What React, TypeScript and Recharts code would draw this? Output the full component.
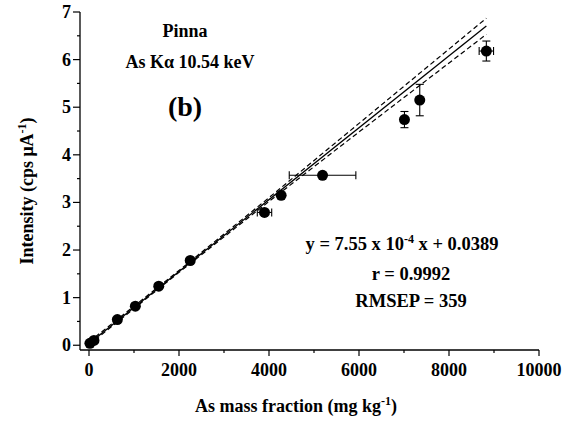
import React from "react";
import {
  ComposedChart,
  Scatter,
  Line,
  XAxis,
  YAxis,
  ErrorBar,
  Customized,
} from "recharts";

// ---- data ----
const massFraction = [20, 110, 630, 1030, 1550, 2250, 3900, 4270, 5190, 7010, 7350, 8830];
const intensity = [0.04, 0.1, 0.54, 0.82, 1.24, 1.78, 2.79, 3.15, 3.57, 4.74, 5.15, 6.18];
const massErr = [0, 0, 0, 0, 0, 0, 160, 0, 740, 0, 0, 160];
const intensityErr = [0, 0, 0, 0, 0, 0, 0, 0, 0, 0.17, 0.33, 0.21];

const fitX = [0, 8830];
const fitY = [0.0389, 6.705];

const bandX = [0, 2000, 4000, 6000, 8830];
const bandUpper = [0.07, 1.57, 3.1, 4.66, 6.87];
const bandLower = [0.01, 1.53, 3.02, 4.48, 6.53];

const xTicks = [0, 1000, 2000, 3000, 4000, 5000, 6000, 7000, 8000, 9000, 10000];
const xMajor = [0, 2000, 4000, 6000, 8000, 10000];
const yTicks = [0, 0.5, 1, 1.5, 2, 2.5, 3, 3.5, 4, 4.5, 5, 5.5, 6, 6.5, 7];
const yMajor = [0, 1, 2, 3, 4, 5, 6, 7];

const points = massFraction.map((x, i) => ({
  x,
  y: intensity[i],
  ex: massErr[i],
  ey: intensityErr[i],
}));
const fitData = fitX.map((x, i) => ({ x, y: fitY[i] }));
const upperData = bandX.map((x, i) => ({ x, y: bandUpper[i] }));
const lowerData = bandX.map((x, i) => ({ x, y: bandLower[i] }));

const FONT = "'Liberation Serif', 'Times New Roman', Times, serif";
const txt = { fontFamily: FONT, fontWeight: 700 as const };

const XTick = (props: any) => {
  const { x, y, payload } = props;
  const major = xMajor.includes(payload.value);
  return (
    <g>
      <line x1={x} y1={y} x2={x} y2={y + (major ? 6 : 3)} stroke="#000" strokeWidth={1.2} />
      {major && (
        <text x={x} y={y + 26} textAnchor="middle" style={{ ...txt, fontSize: 18 }} fill="#000">
          {payload.value}
        </text>
      )}
    </g>
  );
};

const YTick = (props: any) => {
  const { x, y, payload } = props;
  const major = yMajor.includes(payload.value);
  return (
    <g>
      <line x1={x - (major ? 7 : 3)} y1={y} x2={x} y2={y} stroke="#000" strokeWidth={1.2} />
      {major && (
        <text x={x - 9} y={y + 6} textAnchor="end" style={{ ...txt, fontSize: 18 }} fill="#000">
          {payload.value}
        </text>
      )}
    </g>
  );
};

const Dot = (props: any) => <circle cx={props.cx} cy={props.cy} r={5.5} fill="#000" />;

const Annotations = () => (
  <g fill="#000">
    <text x={185} y={37} textAnchor="middle" style={{ ...txt, fontSize: 18 }}>
      Pinna
    </text>
    <text x={190} y={68} textAnchor="middle" style={{ ...txt, fontSize: 18 }}>
      As Kα 10.54 keV
    </text>
    <text x={185} y={116} textAnchor="middle" style={{ ...txt, fontSize: 28 }}>
      (b)
    </text>
    <text x={402} y={250} textAnchor="middle" style={{ ...txt, fontSize: 18.5 }}>
      y = 7.55 x 10
      <tspan dy={-7} style={{ fontSize: 12 }}>
        -4
      </tspan>
      <tspan dy={7}> x + 0.0389</tspan>
    </text>
    <text x={411} y={280} textAnchor="middle" style={{ ...txt, fontSize: 18.5 }}>
      r = 0.9992
    </text>
    <text x={411} y={307} textAnchor="middle" style={{ ...txt, fontSize: 18.5 }}>
      RMSEP = 359
    </text>
    <text x={296} y={412} textAnchor="middle" style={{ ...txt, fontSize: 18 }}>
      As mass fraction (mg kg
      <tspan dy={-7} style={{ fontSize: 12 }}>
        -1
      </tspan>
      <tspan dy={7}>)</tspan>
    </text>
    <text
      x={0}
      y={0}
      textAnchor="middle"
      style={{ ...txt, fontSize: 18 }}
      transform="translate(33 191) rotate(-90)"
    >
      Intensity (cps μA
      <tspan dy={-7} style={{ fontSize: 12 }}>
        -1
      </tspan>
      <tspan dy={7}>)</tspan>
    </text>
  </g>
);

export default function App() {
  return (
    <div style={{ position: "absolute", left: 0, top: 0, width: 576, height: 423, background: "#fff" }}>
      <ComposedChart
        width={576}
        height={423}
        margin={{ top: 12, right: 37, left: 0, bottom: 0 }}
      >
        <XAxis
          dataKey="x"
          type="number"
          domain={[-200, 10000]}
          ticks={xTicks}
          interval={0}
          tickSize={0}
          tickMargin={0}
          tickLine={false}
          tick={<XTick />}
          height={73}
          axisLine={{ stroke: "#000", strokeWidth: 1.3 }}
          allowDataOverflow
        />
        <XAxis
          xAxisId="top"
          dataKey="x"
          orientation="top"
          type="number"
          domain={[-200, 10000]}
          tick={false}
          tickLine={false}
          height={0}
          axisLine={{ stroke: "#000", strokeWidth: 1.3 }}
          allowDataOverflow
        />
        <YAxis
          type="number"
          domain={[-0.1, 7]}
          ticks={yTicks}
          interval={0}
          tickSize={0}
          tickMargin={0}
          tickLine={false}
          tick={<YTick />}
          width={80}
          axisLine={{ stroke: "#000", strokeWidth: 1.3 }}
          allowDataOverflow
        />
        <YAxis
          yAxisId="right"
          orientation="right"
          type="number"
          domain={[-0.1, 7]}
          tick={false}
          tickLine={false}
          width={0}
          axisLine={{ stroke: "#000", strokeWidth: 1.3 }}
          allowDataOverflow
        />
        <Line
          data={upperData}
          dataKey="y"
          type="linear"
          stroke="#000"
          strokeWidth={1.2}
          strokeDasharray="5 3"
          dot={false}
          activeDot={false}
          isAnimationActive={false}
        />
        <Line
          data={lowerData}
          dataKey="y"
          type="linear"
          stroke="#000"
          strokeWidth={1.2}
          strokeDasharray="5 3"
          dot={false}
          activeDot={false}
          isAnimationActive={false}
        />
        <Line
          data={fitData}
          dataKey="y"
          type="linear"
          stroke="#000"
          strokeWidth={1.3}
          dot={false}
          activeDot={false}
          isAnimationActive={false}
        />
        <Scatter data={points} dataKey="y" shape={<Dot />} isAnimationActive={false}>
          <ErrorBar dataKey="ey" direction="y" width={4} stroke="#000" strokeWidth={1.1} />
          <ErrorBar dataKey="ex" direction="x" width={4} stroke="#000" strokeWidth={1.1} />
        </Scatter>
        <Customized component={Annotations} />
      </ComposedChart>
    </div>
  );
}
